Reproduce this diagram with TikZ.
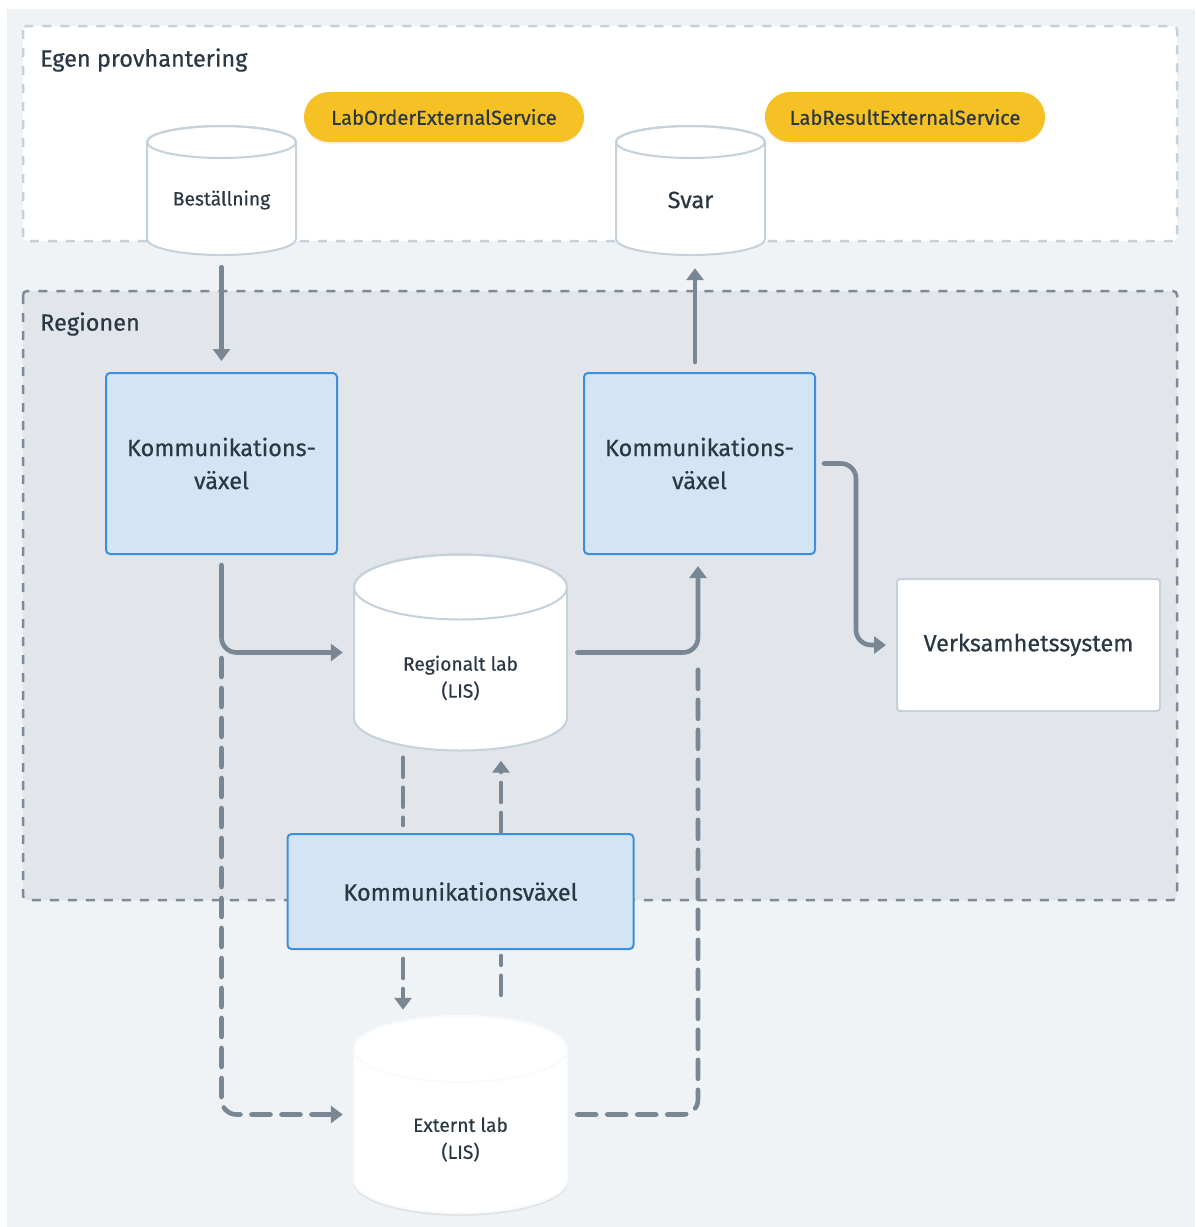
\documentclass[tikz,border=0pt]{standalone}
\usepackage{fontspec}
\setmainfont{Fira Sans}[FakeBold=0.5]
\usetikzlibrary{arrows.meta,calc,shadows}
\definecolor{bgc}{HTML}{EFF3F6}
\definecolor{regfill}{HTML}{E2E6EA}
\definecolor{regline}{HTML}{7E8A95}
\definecolor{topline}{HTML}{C6D1DA}
\definecolor{bluefill}{HTML}{D3E5F5}
\definecolor{blueline}{HTML}{3C8FDB}
\definecolor{cylline}{HTML}{C5D1DB}
\definecolor{arrc}{HTML}{788793}
\definecolor{txtc}{HTML}{2B3844}
\definecolor{yel}{HTML}{F5C124}
\newcommand\mycyl[7]{% name, cx, ytop, ybot, rx, ry, stroke
  \filldraw[fill=white, draw=#7, line width=2pt] (#2-#5,#3) -- (#2-#5,#4)
    arc[start angle=180,end angle=0,x radius=#5,y radius=#6] -- (#2+#5,#3)
    arc[start angle=0,end angle=-180,x radius=#5,y radius=#6] -- cycle;
  \draw[draw=#7, line width=2pt] (#2,#3) ellipse[x radius=#5,y radius=#6];
  \node[inner sep=0pt, minimum width=2*#5 pt, minimum height={(#4-#3+2*#6)*1pt}] (#1) at (#2,{(#3+#4)/2}) {};
}
\tikzset{
  big/.style={font=\fontsize{23.5}{33}\selectfont, text=txtc},
  mid/.style={font=\fontsize{19.2}{27}\selectfont, text=txtc},
  kvbox/.style={draw=blueline, fill=bluefill, line width=2pt, rounded corners=4pt, big, align=center, inner sep=0pt},
  pill/.style={fill=yel, rounded corners=25pt, minimum width=280pt, minimum height=50pt, inner sep=0pt,
    font=\fontsize{20.2}{27}\selectfont, text=txtc,
    drop shadow={opacity=0.10, shadow xshift=0pt, shadow yshift=-2pt}},
  arr/.style={draw=arrc, line width=4.6pt, line cap=round, line join=round, -{Triangle[length=12pt,width=17pt]}},
  sline/.style={draw=arrc, line width=4.6pt, line cap=round, line join=round},
  darr/.style={arr, dash pattern=on 19pt off 11pt},
  dline/.style={sline, dash pattern=on 19pt off 11pt},
}
\begin{document}
\begin{tikzpicture}[x=1pt,y=-1pt]
\useasboundingbox (0,0) rectangle (1195,1227);
\fill[white] (0,0) rectangle (1195,1227);
\fill[bgc] (7,9) rectangle (1195,1227);
% areas
\draw[topline, fill=white, line width=2.5pt, dash pattern=on 9pt off 9pt, rounded corners=4pt] (23,26) rectangle (1177,241);
\draw[regline, fill=regfill, line width=2.5pt, dash pattern=on 9pt off 9pt, rounded corners=4pt] (23,291) rectangle (1177,900);
\node[big, anchor=west, inner sep=0pt] (t1) at (40,60) {Egen provhantering};
\node[big, anchor=west, inner sep=0pt] (t2) at (40,324) {Regionen};
% cylinders
\mycyl{bes}{221.5}{142}{239}{74.5}{16}{cylline}
\node[mid] (best) at (221.5,200) {Beställning};
\mycyl{svar}{690.5}{142}{239}{74.5}{16}{cylline}
\node[big] (svart) at (690.5,200) {Svar};
\mycyl{reg}{460.5}{587}{718}{106.5}{32.5}{cylline}
\node[mid, align=center] (regt) at (460.5,678) {Regionalt lab\\(LIS)};
\fill[black, opacity=0.06] (354-1,1049) -- (354-1,1182) arc[start angle=180,end angle=0,x radius=107.5,y radius=34] -- (567+1,1049) -- cycle;
\mycyl{ext}{460.5}{1049}{1180}{106.5}{33}{white!90!cylline}
\node[mid, align=center] (extt) at (460.5,1139.5) {Externt lab\\(LIS)};
% pills
\node[pill] (lo) at (444,117) {LabOrderExternalService};
\node[pill] (lr) at (905,117) {LabResultExternalService};
% boxes
\node[kvbox, minimum width=231pt, minimum height=181pt] (kv1) at (221.5,463.5) {Kommunikations-\\växel};
\node[kvbox, minimum width=231pt, minimum height=181pt] (kv2) at (699.5,463.5) {Kommunikations-\\växel};
\node[kvbox, minimum width=346pt, minimum height=115pt] (kv3) at (460.5,891.5) {Kommunikationsväxel};
\node[draw=cylline, fill=white, line width=2pt, rounded corners=3pt, minimum width=263pt, minimum height=132pt, big] (ver) at (1028.5,645) {Verksamhetssystem};
% connectors
\draw[arr, shorten <=12pt, shorten >=11pt] (bes.south) -- (kv1.north);
\draw[arr, shorten <=10pt, shorten >=13pt] ([xshift=-4.5pt]kv2.north) -- ([xshift=4.5pt]svar.south);
\draw[arr, rounded corners=15pt, shorten <=10pt, shorten >=11pt] (kv1.south) |- (reg.west);
\draw[arr, rounded corners=15pt, shorten <=10pt, shorten >=11pt] (reg.east) -| ([xshift=-1.5pt]kv2.south);
\draw[arr, rounded corners=15pt, shorten <=8pt, shorten >=10pt] (kv2.east) -| ($(kv2.east)!.5!(ver.west)$) |- (ver.west);
\draw[darr, rounded corners=15pt, shorten >=11pt] ([yshift=-103pt]kv1.south) |- (ext.west);
\draw[dline, rounded corners=15pt, shorten <=10pt] (ext.east) -| ([xshift=-1.5pt,yshift=-110pt]kv2.south);
\draw[dline] ([xshift=-57.5pt,yshift=-7pt]reg.south) -- ([xshift=-57.5pt,yshift=8pt]kv3.north);
\draw[darr] ([xshift=40.5pt,yshift=1pt]kv3.north) -- ([xshift=40.5pt,yshift=-10pt]reg.south);
\draw[darr] ([xshift=-57.5pt,yshift=-9pt]kv3.south) -- ([xshift=-57.5pt,yshift=6pt]ext.north);
\draw[dline] ([xshift=40.5pt,yshift=21pt]ext.north) -- ([xshift=40.5pt,yshift=-6pt]kv3.south);
\end{tikzpicture}
\end{document}
